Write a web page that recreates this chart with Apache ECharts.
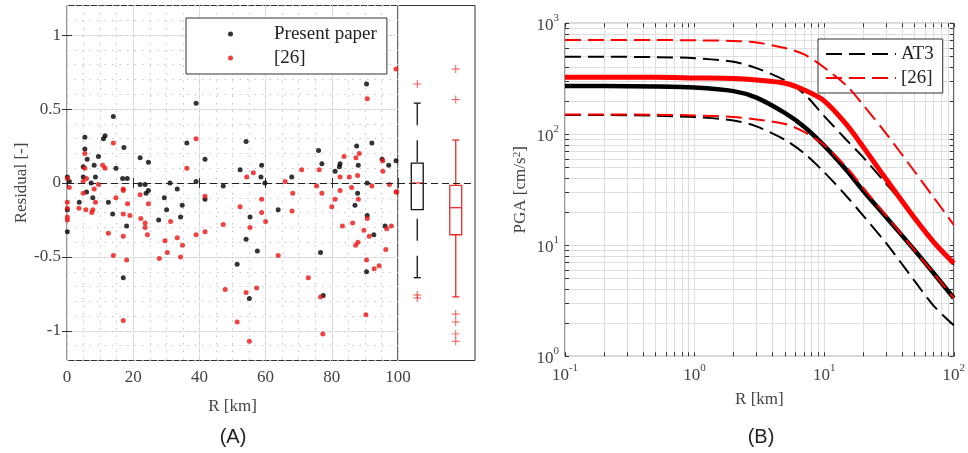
<!DOCTYPE html>
<html>
<head>
<meta charset="utf-8">
<script src="https://cdn.jsdelivr.net/npm/echarts@6/dist/echarts.min.js"></script>
<style>
  html, body { margin: 0; padding: 0; background: #fff; }
  #chart { width: 968px; height: 453px; }
</style>
</head>
<body>
<div id="chart"></div>
<script>
// ---- panel (A): residuals against distance ----
var presentR = [39.0, 14.0, 5.4, 11.0, 11.5, 5.4, 17.2, 36.2, 41.7, 22.1, 24.6, 9.5, 6.1, 4.9, 8.2, 14.8,
  0.1, 0.7, 4.9, 8.6, 7.3, 16.8, 18.2, 22.1, 23.6, 31.1, 33.3, 39.0, 47.2, 24.6, 23.9, 7.8, 29.4, 41.7,
  90.5, 54.1, 76.0, 92.1, 87.5, 52.3, 58.8, 58.6, 77.0, 82.5, 82.3, 81.0, 88.0, 95.2, 97.2, 99.4, 67.9,
  59.8, 90.7, 87.8, 0.1, 0.1, 3.7, 5.9, 12.5, 13.8, 18.0, 17.0, 30.1, 27.7, 34.8, 34.3, 55.3, 54.1, 57.5,
  51.4, 55.1, 63.8, 76.6, 77.4, 87.0, 90.7, 92.7, 90.5, 96.1];
var presentRes = [0.54, 0.45, 0.31, 0.30, 0.32, 0.23, 0.24, 0.27, 0.16, 0.17, 0.14, 0.18, 0.16, 0.11, 0.12, 0.10,
  0.04, 0.01, 0.04, 0.04, 0.00, 0.03, 0.03, -0.01, -0.01, 0.00, -0.04, 0.01, -0.02, -0.05, -0.07, -0.10, -0.10, -0.11,
  0.67, 0.28, 0.22, 0.27, 0.25, 0.09, 0.12, 0.04, 0.13, 0.13, 0.11, 0.08, 0.12, 0.16, 0.12, 0.15, 0.04,
  0.00, 0.00, -0.07, -0.18, -0.33, -0.13, -0.06, -0.13, -0.21, -0.29, -0.64, -0.18, -0.25, -0.15, -0.23, -0.23, -0.38, -0.46,
  -0.55, -0.78, -0.18, -0.47, -0.76, -0.15, -0.22, -0.35, -0.60, -0.29];

var refR = [39.0, 14.0, 5.4, 5.4, 10.8, 11.5, 36.2, 0.1, 0.7, 5.9, 4.9, 9.5, 8.2, 4.9, 17.0, 17.0, 14.8, 22.1, 41.7,
  90.7, 99.4, 54.3, 56.3, 70.9, 76.2, 83.7, 88.3, 87.3, 82.5, 85.3, 87.8, 95.4, 95.4, 65.9, 75.4, 97.4, 68.2,
  77.0, 82.5, 86.0, 99.4, 81.0, 88.0, 58.8,
  0.1, 0.1, 0.1, 0.1, 3.6, 5.7, 7.5, 7.8, 8.6, 12.5, 14.0, 17.0, 17.0, 18.0, 18.3, 19.0, 17.0, 22.3, 23.6, 23.6,
  24.3, 24.6, 27.9, 29.6, 30.3, 31.3, 33.3, 34.3, 34.9, 39.0, 41.7, 47.2, 47.8,
  51.4, 52.3, 54.1, 55.1, 55.3, 57.3, 58.8, 60.0, 63.8, 68.0, 72.9, 76.6, 77.3, 80.0, 83.2, 86.3, 87.2, 87.9,
  89.7, 90.5, 90.3, 90.7, 91.3, 92.1, 92.8, 94.3, 96.3, 96.6, 98.0, 99.6];
var refRes = [0.30, 0.27, 0.20, 0.10, 0.12, 0.10, 0.10, 0.03, -0.03, 0.03, 0.01, -0.01, -0.04, -0.07, -0.04, -0.05, -0.10, -0.08, -0.09,
  0.57, 0.77, 0.04, 0.07, 0.09, 0.09, 0.18, 0.20, 0.17, 0.04, 0.04, 0.05, 0.15, 0.08, 0.01, -0.02, -0.01, -0.07,
  -0.07, -0.05, -0.03, -0.06, -0.11, -0.11, -0.11,
  -0.13, -0.17, -0.23, -0.25, -0.17, -0.18, -0.20, -0.18, -0.13, -0.34, -0.49, -0.21, -0.36, -0.52, -0.14, -0.22, -0.93, -0.24, -0.27, -0.30,
  -0.35, -0.14, -0.51, -0.39, -0.47, -0.26, -0.37, -0.50, -0.42, -0.35, -0.33, -0.28, -0.72,
  -0.94, -0.16, -0.74, -1.07, -0.30, -0.71, -0.20, -0.26, -0.49, -0.19, -0.64, -0.77, -1.02, -0.16, -0.29, -0.27, -0.42, -0.40,
  -0.32, -0.52, -0.89, -0.24, -0.36, -0.02, -0.58, -0.56, -0.45, -0.31, -0.29, -0.06];

var resTicks = [-1, -0.5, 0, 0.5, 1];

// box plot summaries (whisker low, Q1, median, Q3, whisker high)
var boxNames = ['Present paper', '[26]'];
var boxLow = [-0.64, -0.77];
var boxQ1 = [-0.18, -0.35];
var boxMedian = [0, -0.167];
var boxQ3 = [0.135, -0.016];
var boxHigh = [0.54, 0.29];
var outlierBox = [0, 0, 0, 1, 1, 1, 1, 1, 1];
var outlierVal = [0.67, -0.757, -0.777, 0.77, 0.565, -0.885, -0.94, -1.02, -1.07];

// ---- panel (B): PGA attenuation curves ----
var distR = [0.1, 0.2, 0.5, 1, 2, 3, 5, 7, 10, 15, 20, 30, 50, 70, 100];
var at3Median = [272, 272, 270, 264, 245, 214, 155, 117, 79, 47, 31, 18, 9.0, 5.6, 3.35];
var at3Upper = [500, 500, 495, 485, 450, 395, 305, 232, 146, 88, 62, 36, 18, 10.6, 6.7];
var at3Lower = [149, 149, 147, 143, 133, 118, 89, 67.5, 45.6, 27.4, 18.5, 10.5, 4.75, 2.85, 1.9];
var ref26Median = [326, 326, 326, 322, 318, 308, 288, 251, 200, 121, 77, 39.5, 17.5, 10.7, 6.9];
var ref26Upper = [708, 708, 707, 703, 693, 670, 598, 525, 400, 272, 184, 102, 46, 27, 15.3];
var ref26Lower = [151, 151, 150, 148, 143, 136, 124, 105, 80, 50, 33, 18.6, 9.0, 5.6, 3.35];

var logTicksX = [0.1, 0.2, 0.3, 0.4, 0.5, 0.6, 0.7, 0.8, 0.9, 1, 2, 3, 4, 5, 6, 7, 8, 9,
  10, 20, 30, 40, 50, 60, 70, 80, 90, 100];
var logTicksY = [1, 2, 3, 4, 5, 6, 7, 8, 9, 10, 20, 30, 40, 50, 60, 70, 80, 90,
  100, 200, 300, 400, 500, 600, 700, 800, 900, 1000];
var logLabelsX = [0.1, 1, 10, 100];
var logLabelsY = [1, 10, 100, 1000];

var SERIF = 'Liberation Serif';
var TXT = '#444';
var FRAME = '#333';

function zip(xs, ys) {
  return xs.map(function (x, i) { return [x, ys[i]]; });
}
function powLabel(v) {
  return '{b|10}{s|' + Math.round(Math.log10(v)) + '}';
}
var powRich = {
  b: { fontFamily: SERIF, fontSize: 17, color: TXT, lineHeight: 22, verticalAlign: 'bottom' },
  s: { fontFamily: SERIF, fontSize: 11, color: TXT, lineHeight: 14, verticalAlign: 'top' }
};

var boxColors = ['#111', '#ee2a2a'];
var boxDash = [[22, 15], null];

var chart = echarts.init(document.getElementById('chart'));

var option = {
  animation: false,
  backgroundColor: '#fff',
  grid: [
    { left: 67, top: 5.5, width: 331, height: 355, show: true, borderColor: FRAME, borderWidth: 1, backgroundColor: 'transparent' },
    { left: 398, top: 5.5, width: 77, height: 355, show: true, borderColor: FRAME, borderWidth: 1, backgroundColor: 'transparent' },
    { left: 565, top: 23.3, width: 393, height: 333, show: true, borderColor: FRAME, borderWidth: 1, backgroundColor: 'transparent' }
  ],
  legend: [
    {
      data: [{ name: 'Present paper', icon: 'circle' }, { name: '[26]', icon: 'circle' }],
      orient: 'vertical', left: 186, top: 18,
      padding: [4, 10, 4, 42], itemGap: 0, itemWidth: 77, itemHeight: 5,
      backgroundColor: '#fff', borderColor: FRAME, borderWidth: 1, borderRadius: 0,
      selectedMode: false,
      textStyle: { fontFamily: SERIF, fontSize: 19, color: '#222', lineHeight: 24 }
    },
    {
      data: ['AT3', '[26] '],
      orient: 'vertical', left: 818, top: 39,
      padding: [3, 9, 3, 7], itemGap: 0, itemWidth: 70, itemHeight: 2,
      backgroundColor: '#fff', borderColor: FRAME, borderWidth: 1, borderRadius: 0,
      selectedMode: false,
      itemStyle: { opacity: 0 },
      formatter: function (n) { return n.trim(); },
      textStyle: { fontFamily: SERIF, fontSize: 19, color: '#222', lineHeight: 24 }
    }
  ],
  xAxis: [
    { // 0: residual panel bottom
      gridIndex: 0, type: 'value', min: 0, max: 100, interval: 20, position: 'bottom',
      axisLine: { show: false },
      axisTick: { inside: true, length: 5, lineStyle: { color: FRAME } },
      axisLabel: { margin: 9, fontFamily: SERIF, fontSize: 17, color: TXT },
      splitLine: { show: true, lineStyle: { color: '#e2e2e2', width: 1 } },
      name: 'R [km]', nameLocation: 'middle', nameGap: 38,
      nameTextStyle: { fontFamily: SERIF, fontSize: 17, color: TXT }
    },
    { // 1: residual panel top ticks
      gridIndex: 0, type: 'value', min: 0, max: 100, interval: 20, position: 'top',
      axisLine: { show: false }, axisLabel: { show: false }, splitLine: { show: false },
      axisTick: { inside: true, length: 5, lineStyle: { color: FRAME } }
    },
    { // 2: residual panel minor grid
      gridIndex: 0, type: 'value', min: 0, max: 100, interval: 5, position: 'bottom',
      axisLine: { show: false }, axisLabel: { show: false }, axisTick: { show: false },
      splitLine: { show: true, lineStyle: { color: '#c4c4c4', width: 1, type: [1.5, 6] } }
    },
    { // 3: box panel bottom
      gridIndex: 1, type: 'category', data: boxNames, position: 'bottom',
      axisLine: { show: false }, axisLabel: { show: false }, splitLine: { show: false },
      axisTick: { inside: true, length: 5, alignWithLabel: true, lineStyle: { color: FRAME } }
    },
    { // 4: box panel top
      gridIndex: 1, type: 'category', data: boxNames, position: 'top',
      axisLine: { show: false }, axisLabel: { show: false }, splitLine: { show: false },
      axisTick: { inside: true, length: 5, alignWithLabel: true, lineStyle: { color: FRAME } }
    },
    { // 5: PGA bottom (log)
      gridIndex: 2, type: 'log', logBase: 10, min: 0.1, max: 100, position: 'bottom',
      axisLine: { show: false },
      axisTick: { inside: true, length: 4, customValues: logTicksX, lineStyle: { color: FRAME } },
      axisLabel: { margin: 6, customValues: logLabelsX, formatter: powLabel, rich: powRich },
      splitLine: { show: true, lineStyle: { color: '#dedede', width: 1 } },
      name: 'R [km]', nameLocation: 'middle', nameGap: 35,
      nameTextStyle: { fontFamily: SERIF, fontSize: 17, color: TXT }
    },
    { // 6: PGA top ticks
      gridIndex: 2, type: 'log', logBase: 10, min: 0.1, max: 100, position: 'top',
      axisLine: { show: false }, axisLabel: { show: false }, splitLine: { show: false },
      axisTick: { inside: true, length: 4, customValues: logTicksX, lineStyle: { color: FRAME } }
    }
  ],
  yAxis: [
    { // 0: residual left
      gridIndex: 0, type: 'value', min: -1.2, max: 1.2, position: 'left',
      axisLine: { show: false },
      axisTick: { inside: true, length: 5, customValues: resTicks, lineStyle: { color: FRAME } },
      axisLabel: { margin: 6, customValues: resTicks, fontFamily: SERIF, fontSize: 17, color: TXT },
      splitLine: { show: true, lineStyle: { color: '#e2e2e2', width: 1 } },
      name: 'Residual [-]', nameLocation: 'middle', nameGap: 36,
      nameTextStyle: { fontFamily: SERIF, fontSize: 17, color: TXT }
    },
    { // 1: residual right ticks
      gridIndex: 0, type: 'value', min: -1.2, max: 1.2, position: 'right',
      axisLine: { show: false }, axisLabel: { show: false }, splitLine: { show: false },
      axisTick: { inside: true, length: 5, customValues: resTicks, lineStyle: { color: FRAME } }
    },
    { // 2: residual minor grid
      gridIndex: 0, type: 'value', min: -1.2, max: 1.2, interval: 0.1, position: 'left',
      axisLine: { show: false }, axisLabel: { show: false }, axisTick: { show: false },
      splitLine: { show: true, lineStyle: { color: '#c4c4c4', width: 1, type: [1.5, 6] } }
    },
    { // 3: box panel
      gridIndex: 1, type: 'value', min: -1.2, max: 1.2,
      axisLine: { show: false }, axisLabel: { show: false }, axisTick: { show: false },
      splitLine: { show: false }
    },
    { // 4: PGA left (log)
      gridIndex: 2, type: 'log', logBase: 10, min: 1, max: 1000, position: 'left',
      axisLine: { show: false },
      axisTick: { inside: true, length: 4, customValues: logTicksY, lineStyle: { color: FRAME } },
      axisLabel: { margin: 6, customValues: logLabelsY, formatter: powLabel, rich: powRich },
      splitLine: { show: true, lineStyle: { color: '#dedede', width: 1 } },
      name: 'PGA [cm/s{s|2}]', nameLocation: 'middle', nameGap: 36,
      nameTextStyle: {
        fontFamily: SERIF, fontSize: 17, color: TXT,
        rich: { s: { fontFamily: SERIF, fontSize: 11, color: TXT, verticalAlign: 'top', lineHeight: 14 } }
      }
    },
    { // 5: PGA right ticks
      gridIndex: 2, type: 'log', logBase: 10, min: 1, max: 1000, position: 'right',
      axisLine: { show: false }, axisLabel: { show: false }, splitLine: { show: false },
      axisTick: { inside: true, length: 4, customValues: logTicksY, lineStyle: { color: FRAME } }
    }
  ],
  series: [
    {
      name: 'Present paper', type: 'scatter', xAxisIndex: 0, yAxisIndex: 0,
      data: zip(presentR, presentRes), symbol: 'circle', symbolSize: 5,
      itemStyle: { color: '#000' }, z: 3,
      markLine: {
        silent: true, symbol: ['none', 'none'], label: { show: false },
        lineStyle: { color: '#222', width: 1, type: [7, 4] },
        data: [{ yAxis: 0 }]
      }
    },
    {
      name: '[26]', type: 'scatter', xAxisIndex: 0, yAxisIndex: 0,
      data: zip(refR, refRes), symbol: 'circle', symbolSize: 5,
      itemStyle: { color: '#ee1111' }, z: 4
    },
    {
      name: 'box', type: 'custom', xAxisIndex: 3, yAxisIndex: 3,
      data: boxNames.map(function (n, i) { return [i, boxLow[i], boxQ1[i], boxMedian[i], boxQ3[i], boxHigh[i]]; }),
      encode: { x: 0, y: [1, 2, 3, 4, 5] },
      renderItem: function (params, api) {
        var i = params.dataIndex;
        var cat = api.value(0);
        var band = api.size([1, 0])[0];
        var cx = api.coord([cat, 0])[0];
        var yLo = api.coord([cat, api.value(1)])[1];
        var yQ1 = api.coord([cat, api.value(2)])[1];
        var yMed = api.coord([cat, api.value(3)])[1];
        var yQ3 = api.coord([cat, api.value(4)])[1];
        var yHi = api.coord([cat, api.value(5)])[1];
        var hw = band * 0.155, cw = band * 0.09;
        var col = boxColors[i];
        var whisk = { stroke: col, lineWidth: 1.3, lineDash: boxDash[i] };
        var solid = { stroke: col, lineWidth: 1.3 };
        return {
          type: 'group',
          children: [
            { type: 'line', shape: { x1: cx, y1: yHi, x2: cx, y2: yQ3 }, style: whisk },
            { type: 'line', shape: { x1: cx, y1: yLo, x2: cx, y2: yQ1 }, style: whisk },
            { type: 'line', shape: { x1: cx - cw, y1: yHi, x2: cx + cw, y2: yHi }, style: solid },
            { type: 'line', shape: { x1: cx - cw, y1: yLo, x2: cx + cw, y2: yLo }, style: solid },
            { type: 'rect', shape: { x: cx - hw, y: yQ3, width: 2 * hw, height: yQ1 - yQ3 },
              style: { stroke: col, lineWidth: 1.3, fill: 'none' } },
            { type: 'line', shape: { x1: cx - hw, y1: yMed, x2: cx + hw, y2: yMed },
              style: { stroke: '#ee2a2a', lineWidth: 1.3 } }
          ]
        };
      },
      z: 3
    },
    {
      name: 'outliers', type: 'scatter', xAxisIndex: 3, yAxisIndex: 3,
      data: zip(outlierBox, outlierVal),
      symbol: 'path://M0,4.4H10V5.6H0ZM4.4,0H5.6V10H4.4Z', symbolSize: 8,
      itemStyle: { color: '#ee2a2a' }, z: 4,
      markLine: {
        silent: true, symbol: ['none', 'none'], label: { show: false },
        lineStyle: { color: '#222', width: 1, type: [7, 4] },
        data: [{ yAxis: 0 }]
      }
    },
    {
      name: 'AT3 median', type: 'line', xAxisIndex: 5, yAxisIndex: 4,
      data: zip(distR, at3Median), showSymbol: false, symbol: 'none', smooth: 0.3,
      lineStyle: { color: '#000', width: 4.5 }, z: 3
    },
    {
      name: 'AT3', type: 'line', xAxisIndex: 5, yAxisIndex: 4,
      data: zip(distR, at3Upper), showSymbol: false, symbol: 'none', smooth: 0.3,
      itemStyle: { color: '#000' },
      lineStyle: { color: '#000', width: 2, type: [16, 7] }, z: 3
    },
    {
      name: 'AT3 lower', type: 'line', xAxisIndex: 5, yAxisIndex: 4,
      data: zip(distR, at3Lower), showSymbol: false, symbol: 'none', smooth: 0.3,
      lineStyle: { color: '#000', width: 2, type: [16, 7] }, z: 3
    },
    {
      name: '[26] median', type: 'line', xAxisIndex: 5, yAxisIndex: 4,
      data: zip(distR, ref26Median), showSymbol: false, symbol: 'none', smooth: 0.3,
      lineStyle: { color: '#ff0000', width: 5 }, z: 4
    },
    {
      name: '[26] ', type: 'line', xAxisIndex: 5, yAxisIndex: 4,
      data: zip(distR, ref26Upper), showSymbol: false, symbol: 'none', smooth: 0.3,
      itemStyle: { color: '#ff0000' },
      lineStyle: { color: '#ff0000', width: 2, type: [16, 7] }, z: 4
    },
    {
      name: '[26] lower', type: 'line', xAxisIndex: 5, yAxisIndex: 4,
      data: zip(distR, ref26Lower), showSymbol: false, symbol: 'none', smooth: 0.3,
      lineStyle: { color: '#ff0000', width: 2, type: [16, 7] }, z: 4
    }
  ],
  graphic: [
    { type: 'text', x: 233, y: 437, style: { text: '(A)', align: 'center', verticalAlign: 'middle', fontFamily: 'Liberation Sans', fontSize: 20, fill: '#222' } },
    { type: 'text', x: 761, y: 437, style: { text: '(B)', align: 'center', verticalAlign: 'middle', fontFamily: 'Liberation Sans', fontSize: 20, fill: '#222' } }
  ]
};

chart.setOption(option);
</script>
</body>
</html>
